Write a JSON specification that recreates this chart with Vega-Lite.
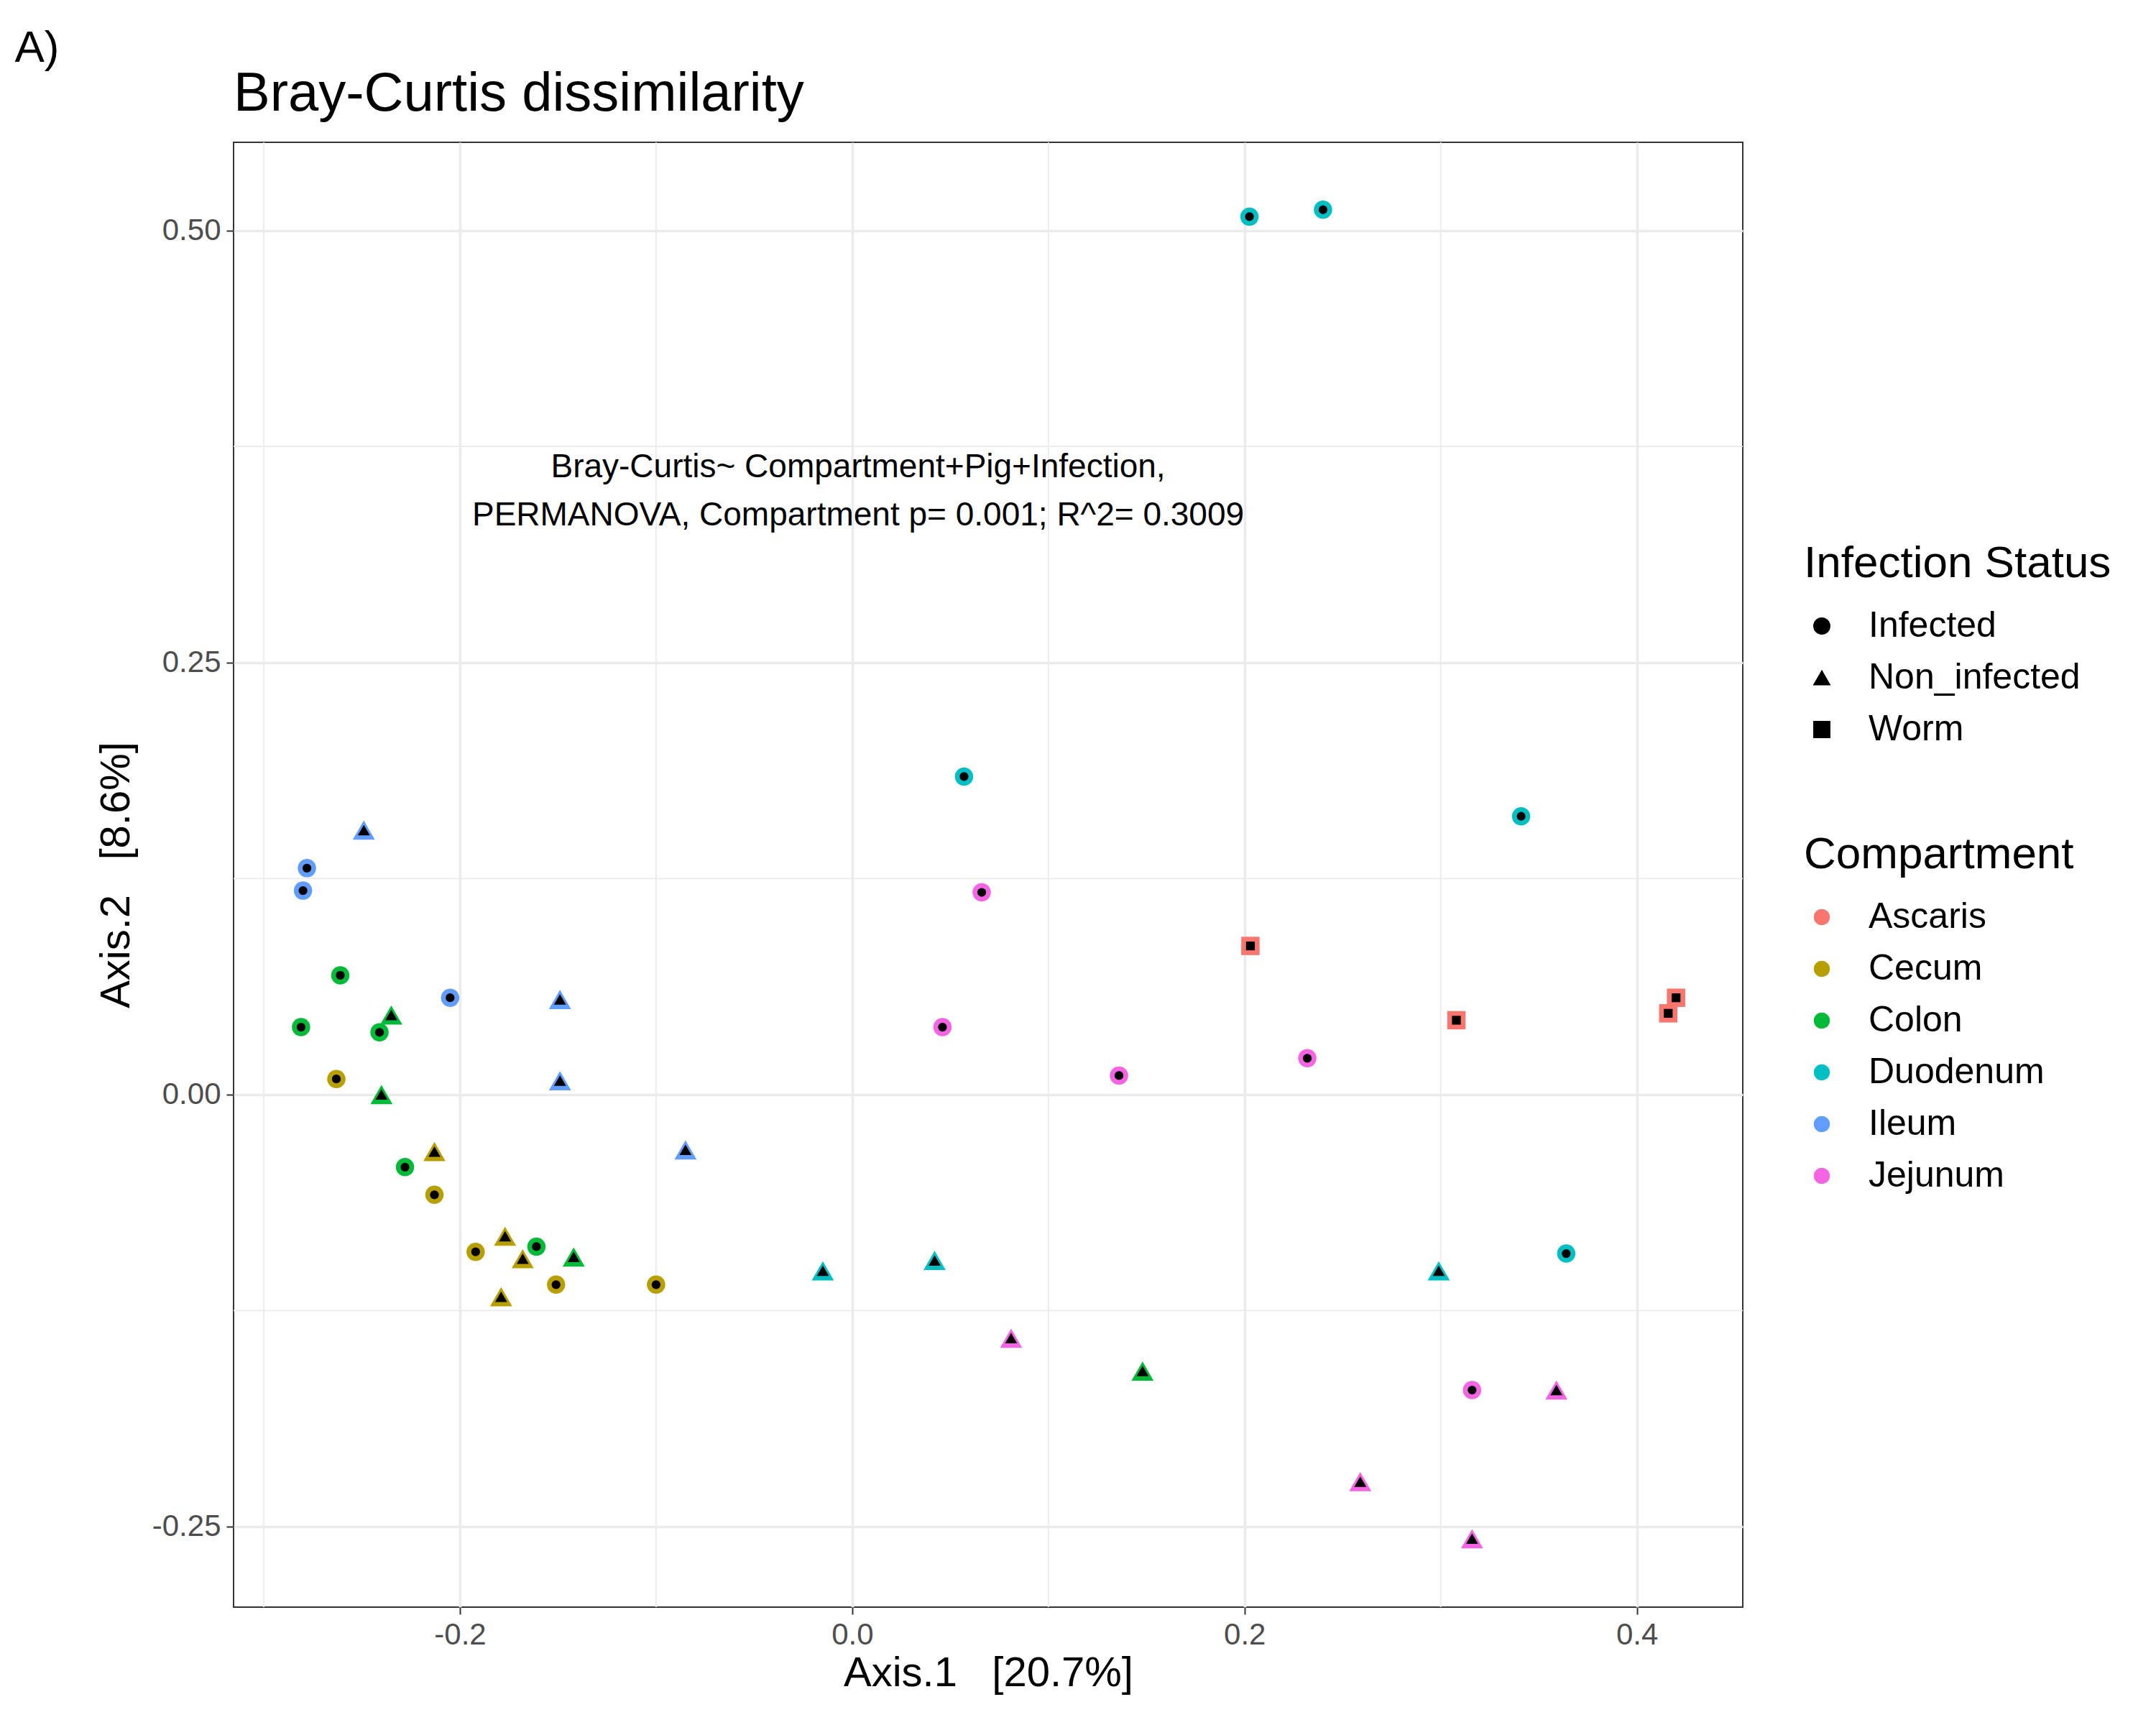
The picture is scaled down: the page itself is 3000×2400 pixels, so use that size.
{
  "$schema": "https://vega.github.io/schema/vega-lite/v6.json",
  "autosize": {"type": "none"},
  "width": 2100,
  "height": 2038,
  "padding": {"left": 325, "top": 198, "right": 575, "bottom": 164},
  "background": "white",
  "config": {
    "font": "Liberation Sans",
    "view": {"stroke": "#333333", "strokeWidth": 2},
    "axis": {"gridColor": "#EBEBEB", "gridWidth": 3.5, "domain": false, "tickColor": "#333333", "tickWidth": 2, "tickSize": 10,
      "labelFontSize": 42, "labelColor": "#4D4D4D", "labelPadding": 8, "titleFontSize": 58, "titleFontWeight": "normal", "titleColor": "black"},
    "legend": {"titleFontSize": 62, "titleFontWeight": "normal", "labelFontSize": 50, "symbolSize": 500, "rowPadding": 22, "titlePadding": 30, "labelOffset": 40, "labelLimit": 0, "titleLimit": 0}
  },
  "datasets": {
    "pts": [
      {"x": 0.2025, "y": 0.508, "c": "Duodenum", "s": "Infected"},
      {"x": 0.240, "y": 0.512, "c": "Duodenum", "s": "Infected"},
      {"x": 0.057, "y": 0.184, "c": "Duodenum", "s": "Infected"},
      {"x": 0.341, "y": 0.161, "c": "Duodenum", "s": "Infected"},
      {"x": 0.364, "y": -0.092, "c": "Duodenum", "s": "Infected"},
      {"x": -0.015, "y": -0.102, "c": "Duodenum", "s": "Non_infected"},
      {"x": 0.042, "y": -0.096, "c": "Duodenum", "s": "Non_infected"},
      {"x": 0.299, "y": -0.102, "c": "Duodenum", "s": "Non_infected"},
      {"x": 0.066, "y": 0.117, "c": "Jejunum", "s": "Infected"},
      {"x": 0.046, "y": 0.039, "c": "Jejunum", "s": "Infected"},
      {"x": 0.136, "y": 0.011, "c": "Jejunum", "s": "Infected"},
      {"x": 0.232, "y": 0.021, "c": "Jejunum", "s": "Infected"},
      {"x": 0.316, "y": -0.171, "c": "Jejunum", "s": "Infected"},
      {"x": 0.081, "y": -0.141, "c": "Jejunum", "s": "Non_infected"},
      {"x": 0.259, "y": -0.224, "c": "Jejunum", "s": "Non_infected"},
      {"x": 0.316, "y": -0.257, "c": "Jejunum", "s": "Non_infected"},
      {"x": 0.359, "y": -0.171, "c": "Jejunum", "s": "Non_infected"},
      {"x": 0.203, "y": 0.086, "c": "Ascaris", "s": "Worm"},
      {"x": 0.308, "y": 0.043, "c": "Ascaris", "s": "Worm"},
      {"x": 0.416, "y": 0.047, "c": "Ascaris", "s": "Worm"},
      {"x": 0.420, "y": 0.056, "c": "Ascaris", "s": "Worm"},
      {"x": -0.278, "y": 0.131, "c": "Ileum", "s": "Infected"},
      {"x": -0.280, "y": 0.118, "c": "Ileum", "s": "Infected"},
      {"x": -0.205, "y": 0.056, "c": "Ileum", "s": "Infected"},
      {"x": -0.249, "y": 0.153, "c": "Ileum", "s": "Non_infected"},
      {"x": -0.149, "y": 0.055, "c": "Ileum", "s": "Non_infected"},
      {"x": -0.149, "y": 0.008, "c": "Ileum", "s": "Non_infected"},
      {"x": -0.085, "y": -0.032, "c": "Ileum", "s": "Non_infected"},
      {"x": -0.261, "y": 0.069, "c": "Colon", "s": "Infected"},
      {"x": -0.281, "y": 0.039, "c": "Colon", "s": "Infected"},
      {"x": -0.241, "y": 0.036, "c": "Colon", "s": "Infected"},
      {"x": -0.228, "y": -0.042, "c": "Colon", "s": "Infected"},
      {"x": -0.161, "y": -0.088, "c": "Colon", "s": "Infected"},
      {"x": -0.235, "y": 0.046, "c": "Colon", "s": "Non_infected"},
      {"x": -0.240, "y": 0.0, "c": "Colon", "s": "Non_infected"},
      {"x": -0.142, "y": -0.094, "c": "Colon", "s": "Non_infected"},
      {"x": 0.148, "y": -0.160, "c": "Colon", "s": "Non_infected"},
      {"x": -0.263, "y": 0.009, "c": "Cecum", "s": "Infected"},
      {"x": -0.213, "y": -0.058, "c": "Cecum", "s": "Infected"},
      {"x": -0.192, "y": -0.091, "c": "Cecum", "s": "Infected"},
      {"x": -0.151, "y": -0.110, "c": "Cecum", "s": "Infected"},
      {"x": -0.100, "y": -0.110, "c": "Cecum", "s": "Infected"},
      {"x": -0.213, "y": -0.033, "c": "Cecum", "s": "Non_infected"},
      {"x": -0.177, "y": -0.082, "c": "Cecum", "s": "Non_infected"},
      {"x": -0.168, "y": -0.095, "c": "Cecum", "s": "Non_infected"},
      {"x": -0.179, "y": -0.117, "c": "Cecum", "s": "Non_infected"}
    ],
    "gx": [{"v": -0.3}, {"v": -0.1}, {"v": 0.1}, {"v": 0.3}],
    "gy": [{"v": 0.375}, {"v": 0.125}, {"v": -0.125}],
    "notes": [
      {"x": 0.003, "y": 0.363, "t": "Bray-Curtis~ Compartment+Pig+Infection,"},
      {"x": 0.003, "y": 0.335, "t": "PERMANOVA, Compartment p= 0.001; R^2= 0.3009"}
    ],
    "tag": [{"x": -0.427, "y": 0.6055, "t": "A)", "f": 62}],
    "ttl": [{"x": -0.3154, "y": 0.579, "t": "Bray-Curtis dissimilarity"}]
  },
  "layer": [
    {
      "data": {"name": "gx"},
      "mark": {"type": "rule", "color": "#EBEBEB", "strokeWidth": 1.8},
      "encoding": {"x": {"field": "v", "type": "quantitative"}}
    },
    {
      "data": {"name": "gy"},
      "mark": {"type": "rule", "color": "#EBEBEB", "strokeWidth": 1.8},
      "encoding": {"y": {"field": "v", "type": "quantitative"}}
    },
    {
      "data": {"name": "pts"},
      "mark": {"type": "point", "filled": true, "opacity": 1},
      "encoding": {
        "x": {"field": "x", "type": "quantitative", "title": "Axis.1\u00a0\u00a0\u00a0[20.7%]",
          "scale": {"domain": [-0.3154, 0.454], "nice": false, "zero": false},
          "axis": {"values": [-0.2, 0, 0.2, 0.4], "format": ".1f", "labelExpr": "replace(datum.label, '\u2212', '-')"}},
        "y": {"field": "y", "type": "quantitative", "title": "Axis.2\u00a0\u00a0\u00a0[8.6%]",
          "scale": {"domain": [-0.2966, 0.551], "nice": false, "zero": false},
          "axis": {"values": [-0.25, 0, 0.25, 0.5], "format": ".2f", "titlePadding": 20, "labelExpr": "replace(datum.label, '\u2212', '-')"}},
        "color": {"field": "c", "type": "nominal", "title": "Compartment",
          "scale": {"domain": ["Ascaris", "Cecum", "Colon", "Duodenum", "Ileum", "Jejunum"],
            "range": ["#F8766D", "#B79F00", "#00BA38", "#00BFC4", "#619CFF", "#F564E3"]},
          "legend": {"orient": "none", "legendX": 2185, "legendY": 961, "symbolType": "circle"}},
        "shape": {"field": "s", "type": "nominal", "title": "Infection Status",
          "scale": {"domain": ["Infected", "Non_infected", "Worm"], "range": ["circle", "triangle-up", "square"]},
          "legend": {"orient": "none", "legendX": 2185, "legendY": 556, "symbolFillColor": "black", "symbolStrokeColor": "black"}},
        "size": {"condition": {"test": "datum.s == 'Non_infected'", "value": 950}, "value": 650}
      }
    },
    {
      "data": {"name": "pts"},
      "mark": {"type": "point", "filled": true, "opacity": 1, "color": "black"},
      "encoding": {
        "x": {"field": "x", "type": "quantitative"},
        "y": {"field": "y", "type": "quantitative"},
        "shape": {"field": "s", "type": "nominal"},
        "size": {"condition": {"test": "datum.s == 'Non_infected'", "value": 280}, "value": 150}
      }
    },
    {
      "data": {"name": "notes"},
      "mark": {"type": "text", "fontSize": 46, "color": "black"},
      "encoding": {
        "x": {"field": "x", "type": "quantitative"},
        "y": {"field": "y", "type": "quantitative"},
        "text": {"field": "t"}
      }
    },
    {
      "data": {"name": "tag"},
      "mark": {"type": "text", "fontSize": 62, "color": "black", "align": "left", "clip": false},
      "encoding": {
        "x": {"field": "x", "type": "quantitative"},
        "y": {"field": "y", "type": "quantitative"},
        "text": {"field": "t"}
      }
    },
    {
      "data": {"name": "ttl"},
      "mark": {"type": "text", "fontSize": 76, "color": "black", "align": "left", "clip": false},
      "encoding": {
        "x": {"field": "x", "type": "quantitative"},
        "y": {"field": "y", "type": "quantitative"},
        "text": {"field": "t"}
      }
    }
  ]
}
